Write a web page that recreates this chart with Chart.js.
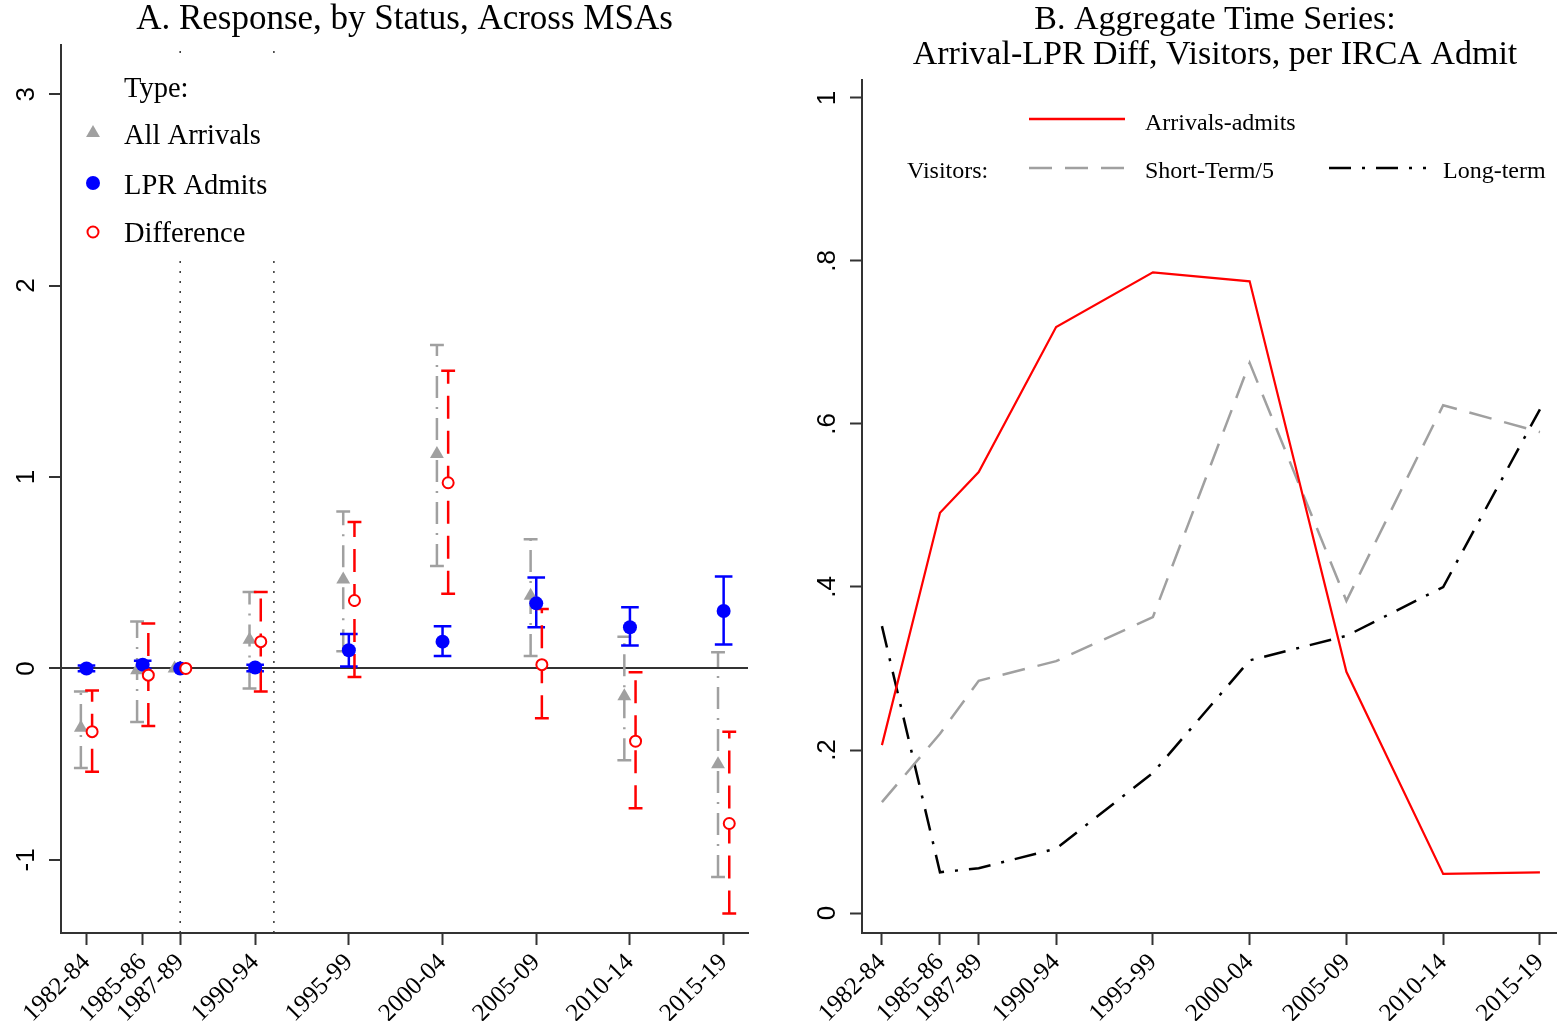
<!DOCTYPE html>
<html>
<head>
<meta charset="utf-8">
<script src="https://cdn.jsdelivr.net/npm/chart.js@4"></script>
<style>
html, body { margin: 0; padding: 0; background: #fff; overflow: hidden; }
#wrap { position: relative; width: 1557px; height: 1021px; overflow: hidden; }
canvas { position: absolute; top: 0; }
#left { left: 0; }
#right { left: 770px; }
</style>
</head>
<body>
<div id="wrap">
<canvas id="left" width="770" height="1021"></canvas>
<canvas id="right" width="798" height="1021"></canvas>
</div>
<script>
// periods, plotted at their middle year
var periods = ['1982-84', '1985-86', '1987-89', '1990-94', '1995-99', '2000-04', '2005-09', '2010-14', '2015-19'];
var midYears = [1983, 1986, 1988, 1992, 1997, 2002, 2007, 2012, 2017];

// panel A: estimates and CI bounds (1987-89 is the base period)
var seriesA = ['All Arrivals', 'LPR Admits', 'Difference'];
var allArr   = [-0.31, -0.01, 0, 0.15, 0.465, 1.12, 0.38, -0.145, -0.50];
var allLo    = [-0.52, -0.28, null, -0.105, 0.09, 0.535, 0.065, -0.48, -1.09];
var allHi    = [-0.12, 0.245, null, 0.40, 0.82, 1.69, 0.675, 0.165, 0.085];
var lpr      = [0, 0.02, 0, 0.005, 0.095, 0.14, 0.34, 0.215, 0.30];
var lprLo    = [-0.015, 0.0, null, -0.015, 0.01, 0.065, 0.215, 0.12, 0.125];
var lprHi    = [0.015, 0.04, null, 0.02, 0.18, 0.22, 0.475, 0.32, 0.48];
var diff     = [-0.33, -0.035, 0, 0.14, 0.355, 0.97, 0.02, -0.38, -0.81];
var diffLo   = [-0.54, -0.30, null, -0.12, -0.045, 0.39, -0.26, -0.73, -1.28];
var diffHi   = [-0.115, 0.235, null, 0.40, 0.765, 1.555, 0.31, -0.02, -0.33];
var refYears = [1988, 1993];
var yTicksA = [-1, 0, 1, 2, 3];

// panel B: aggregate series
var seriesB = ['Arrivals-admits', 'Short-Term/5', 'Long-term'];
var arrivalsAdmits = [0.206, 0.491, 0.541, 0.719, 0.786, 0.775, 0.296, 0.048, 0.050];
var shortTerm5     = [0.136, 0.22, 0.285, 0.309, 0.363, 0.675, 0.383, 0.623, 0.59];
var longTerm       = [0.352, 0.05, 0.055, 0.079, 0.172, 0.31, 0.34, 0.40, 0.618];
var yTicksB = [0, 0.2, 0.4, 0.6, 0.8, 1];

var RED = '#ff0000', BLUE = '#0000ff', GRAY = '#a0a0a0', AXIS = '#333333';
var SERIF = 'Liberation Serif';
Chart.defaults.font.family = SERIF;

function pts(off, vals) {
    return midYears.map(function (x, i) { return {x: x + off, y: vals[i]}; });
}
function whiskers(off, lo, hi) {
    var d = [];
    midYears.forEach(function (x, i) {
        if (lo[i] === null) return;
        d.push({x: x + off, y: lo[i]}, {x: x + off, y: hi[i]}, {x: x + off, y: null});
    });
    return d;
}
function caps(off, w, lo, hi) {
    var d = [];
    midYears.forEach(function (x, i) {
        if (lo[i] === null) return;
        d.push({x: x + off - w, y: hi[i]}, {x: x + off + w, y: hi[i]}, {x: x, y: null});
        d.push({x: x + off - w, y: lo[i]}, {x: x + off + w, y: lo[i]}, {x: x, y: null});
    });
    return d;
}

// y tick labels are rotated, drawn at the scale's own tick pixels
function yTickText(fmt) {
    return {
        id: 'yTickText',
        afterDraw: function (chart) {
            var s = chart.scales.y, ctx = chart.ctx;
            ctx.save();
            ctx.font = '26px "Liberation Sans"';
            ctx.fillStyle = '#000';
            ctx.textAlign = 'center';
            ctx.textBaseline = 'middle';
            s.ticks.forEach(function (t) {
                ctx.save();
                ctx.translate(s.right - 34, s.getPixelForValue(t.value));
                ctx.rotate(-Math.PI / 2);
                ctx.fillText(fmt(t.value), 0, 0);
                ctx.restore();
            });
            ctx.restore();
        }
    };
}

var legendA = {
    id: 'legendA',
    afterDraw: function (chart) {
        var ctx = chart.ctx;
        ctx.save();
        ctx.fillStyle = '#fff';
        ctx.fillRect(66, 57, 234, 200);
        ctx.font = '28.5px "' + SERIF + '"';
        ctx.fillStyle = '#000';
        ctx.textBaseline = 'middle';
        ctx.fillText('Type:', 124, 90);
        ctx.fillText(seriesA[0], 124, 137);
        ctx.fillText(seriesA[1], 124, 187);
        ctx.fillText(seriesA[2], 124, 235);
        ctx.fillStyle = GRAY;
        Chart.helpers.drawPoint(ctx, {pointStyle: 'triangle', radius: 8, borderWidth: 0}, 93, 133);
        ctx.fillStyle = BLUE;
        Chart.helpers.drawPoint(ctx, {pointStyle: 'circle', radius: 7, borderWidth: 0}, 93, 183);
        ctx.fillStyle = '#fff';
        ctx.strokeStyle = RED;
        ctx.lineWidth = 2;
        Chart.helpers.drawPoint(ctx, {pointStyle: 'circle', radius: 5.5, borderWidth: 2}, 93, 232);
        ctx.restore();
    }
};

var legendB = {
    id: 'legendB',
    afterDraw: function (chart) {
        var ctx = chart.ctx;
        ctx.save();
        ctx.lineWidth = 2.5;
        ctx.strokeStyle = RED;
        ctx.beginPath(); ctx.moveTo(259, 119); ctx.lineTo(355, 119); ctx.stroke();
        ctx.strokeStyle = GRAY;
        ctx.setLineDash([23, 13]);
        ctx.beginPath(); ctx.moveTo(259, 168); ctx.lineTo(355, 168); ctx.stroke();
        ctx.strokeStyle = '#000';
        ctx.setLineDash([22, 11, 3, 11]);
        ctx.beginPath(); ctx.moveTo(559, 168); ctx.lineTo(656, 168); ctx.stroke();
        ctx.setLineDash([]);
        ctx.font = '24px "' + SERIF + '"';
        ctx.fillStyle = '#000';
        ctx.textBaseline = 'middle';
        ctx.fillText(seriesB[0], 375, 124);
        ctx.fillText('Visitors:', 137, 172);
        ctx.fillText(seriesB[1], 375, 172);
        ctx.fillText(seriesB[2], 673, 172);
        ctx.restore();
    }
};

function xAxis(min, max) {
    return {
        type: 'linear', min: min, max: max,
        afterBuildTicks: function (s) { s.ticks = midYears.map(function (v) { return {value: v}; }); },
        afterFit: function (s) { s.height = 88; },
        grid: {drawOnChartArea: false, drawTicks: true, tickLength: 12, tickWidth: 2, tickColor: AXIS},
        border: {display: true, color: AXIS, width: 2},
        ticks: {
            autoSkip: false, minRotation: 45, maxRotation: 45, padding: 3, color: '#000',
            font: {family: SERIF, size: 25},
            callback: function (v) { return periods[midYears.indexOf(v)]; }
        }
    };
}

var yMinA = -1.382, yMaxA = 3.257;
var refData = [];
refYears.forEach(function (x) { refData.push({x: x, y: yMinA}, {x: x, y: yMaxA}, {x: x, y: null}); });

var OFF = 0.3, CAP = 0.37, CAPB = 0.47;
function lineDs(data, color, dash, order) {
    return {type: 'line', data: data, borderColor: color, borderWidth: 2.5, borderDash: dash,
        pointRadius: 0, spanGaps: false, fill: false, order: order};
}
function markDs(data, style, r, bg, border, bw, order) {
    return {type: 'line', data: data, showLine: false, pointStyle: style, pointRadius: r,
        pointBackgroundColor: bg, pointBorderColor: border, pointBorderWidth: bw, order: order};
}

new Chart(document.getElementById('left'), {
    type: 'line',
    data: {
        datasets: [
            markDs(pts(OFF, diff), 'circle', 5.5, '#fff', RED, 2, 0),
            markDs(pts(0, lpr), 'circle', 7, BLUE, BLUE, 0, 1),
            markDs(pts(-OFF, allArr), 'triangle', 8, GRAY, GRAY, 0, 2),
            lineDs(caps(OFF, CAP, diffLo, diffHi), RED, [], 3),
            lineDs(whiskers(OFF, diffLo, diffHi), RED, [23, 12], 3),
            lineDs(caps(0, CAPB, lprLo, lprHi), BLUE, [], 4),
            lineDs(whiskers(0, lprLo, lprHi), BLUE, [], 4),
            lineDs(caps(-OFF, CAP, allLo, allHi), GRAY, [], 5),
            lineDs(whiskers(-OFF, allLo, allHi), GRAY, [22, 9, 2, 9], 5),
            {type: 'line', data: refData, borderColor: AXIS, borderWidth: 1.5, borderDash: [2, 8],
                pointRadius: 0, spanGaps: false, order: 6}
        ]
    },
    options: {
        responsive: false, animation: false, events: [],
        layout: {padding: {left: 0, right: 22, top: 0, bottom: 0}},
        plugins: {
            legend: {display: false}, tooltip: {enabled: false},
            title: {display: true, fullSize: false, text: 'A. Response, by Status, Across MSAs', color: '#000',
                font: {family: SERIF, size: 35, weight: 'normal', lineHeight: 1.15}, padding: {top: 0, bottom: 4.75}}
        },
        scales: {
            x: xAxis(1981.64, 2018.30),
            y: {
                min: yMinA, max: yMaxA,
                afterBuildTicks: function (s) { s.ticks = yTicksA.map(function (v) { return {value: v}; }); },
                afterFit: function (s) { s.width = 61; },
                ticks: {display: false},
                grid: {
                    color: function (c) { return c.tick && c.tick.value === 0 ? AXIS : 'rgba(0,0,0,0)'; },
                    lineWidth: 2, drawTicks: true, tickLength: 12, tickWidth: 2, tickColor: AXIS
                },
                border: {display: true, color: AXIS, width: 2}
            }
        }
    },
    plugins: [yTickText(function (v) { return String(v); }), legendA]
});

new Chart(document.getElementById('right'), {
    type: 'line',
    data: {
        datasets: [
            {data: pts(0, arrivalsAdmits), borderColor: RED, borderWidth: 2.2, pointRadius: 0, order: 0},
            {data: pts(0, shortTerm5), borderColor: GRAY, borderWidth: 2.5, borderDash: [23, 13], pointRadius: 0, order: 1},
            {data: pts(0, longTerm), borderColor: '#000', borderWidth: 2.5, borderDash: [22, 11, 3, 11], pointRadius: 0, order: 2}
        ]
    },
    options: {
        responsive: false, animation: false, events: [],
        layout: {padding: {left: 0, right: 0, top: 0, bottom: 0}},
        plugins: {
            legend: {display: false}, tooltip: {enabled: false},
            title: {display: true, fullSize: false,
                text: ['B. Aggregate Time Series:', 'Arrival-LPR Diff, Visitors, per IRCA Admit'], color: '#000',
                font: {family: SERIF, size: 34, weight: 'normal', lineHeight: 1.03}, padding: {top: 3, bottom: 6.96}}
        },
        scales: {
            x: xAxis(1981.97, 2018.45),
            y: {
                min: -0.0245, max: 1.022,
                afterBuildTicks: function (s) { s.ticks = yTicksB.map(function (v) { return {value: v}; }); },
                afterFit: function (s) { s.width = 92; },
                ticks: {display: false},
                grid: {drawOnChartArea: false, drawTicks: true, tickLength: 12, tickWidth: 2, tickColor: AXIS},
                border: {display: true, color: AXIS, width: 2}
            }
        }
    },
    plugins: [yTickText(function (v) { return v === 0 || v === 1 ? String(v) : String(v).replace('0.', '.'); }), legendB]
});
</script>
</body>
</html>
